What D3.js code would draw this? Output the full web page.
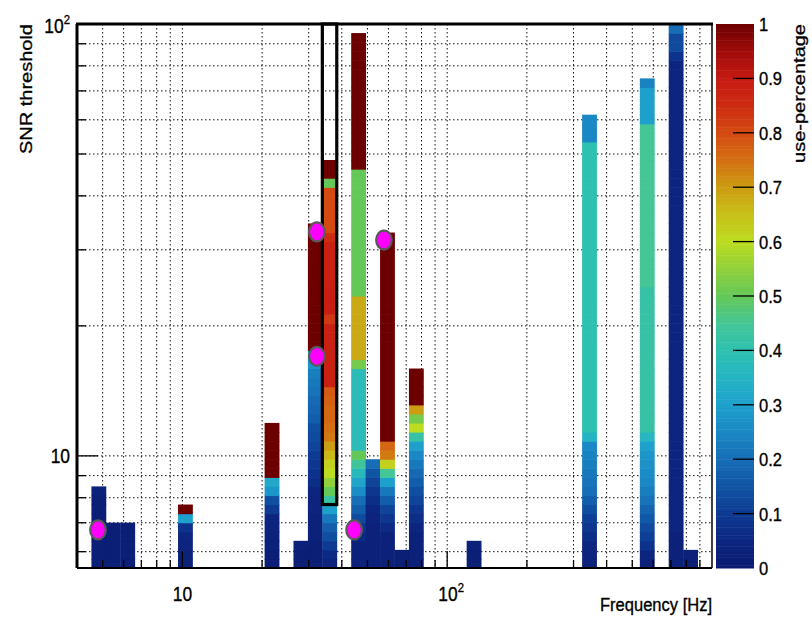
<!DOCTYPE html>
<html lang="en">
<head>
<meta charset="UTF-8">
<title>SNR threshold vs frequency</title>
<script src="https://d3js.org/d3.v7.min.js"></script>
<style>
  body { margin: 0; background: #fff; }
  svg { display: block; font-family: "Liberation Sans", Arial, sans-serif; }
  text { stroke: #000; stroke-width: 0.35; }
</style>
</head>
<body>
<svg id="chart"></svg>
<script>
// binning of the 2D histogram (log-uniform on both axes)
const freqRange = [4, 1000]
const freqBinCount = 44
const snrRange = [5.5, 100]
const snrBinCount = 60

// frequency bins that have content
const filledFreqBins = [1, 2, 3, 7, 13, 15, 16, 17, 19, 20, 21, 22, 23, 27, 35, 39, 41, 42]

// use-percentage of every SNR bin in those columns, from the lowest SNR bin up
const usePercentage = [
  [0.02, 0.02, 0.02, 0.02, 0.02, 0.02, 0.02, 0.02, 0.03],
  [0.02, 0.02, 0.02, 0.02, 0.02],
  [0.02, 0.02, 0.02, 0.02, 0.02],
  [0.03, 0.03, 0.04, 0.05, 0.08, 0.3, 1],
  [0.02, 0.02, 0.03, 0.03, 0.04, 0.05, 0.1, 0.14, 0.28, 0.32, 1, 1, 1, 1, 1, 1],
  [0.02, 0.02, 0.03],
  [0.02, 0.02, 0.02, 0.03, 0.03, 0.03, 0.04, 0.04, 0.05, 0.07, 0.08, 0.09, 0.1, 0.12, 0.13, 0.14,
   0.17, 0.18, 0.19, 0.21, 0.22, 0.23, 0.27, 0.3, 1, 1, 1, 1, 1, 1, 1, 1, 1, 1, 1, 1, 1, 1],
  [0.04, 0.06, 0.1, 0.14, 0.17, 0.22, 0.3, 0.42, 0.5, 0.55, 0.6, 0.62, 0.66, 0.7, 0.74, 0.75,
   0.76, 0.76, 0.77, 0.78, 0.88, 0.88, 0.88, 0.88, 0.88, 0.88, 0.88, 0.83, 0.89, 0.89, 0.89,
   0.88, 0.88, 0.88, 0.88, 0.88, 0.85, 0.8, 0.8, 0.8, 0.8, 0.8, 0.5, 1, 1],
  [0.03, 0.03, 0.03, 0.06, 0.09, 0.13, 0.17, 0.2, 0.26, 0.31, 0.37, 0.44, 0.5, 0.38, 0.38, 0.38,
   0.38, 0.38, 0.38, 0.38, 0.38, 0.38, 0.52, 0.68, 0.68, 0.68, 0.68, 0.68, 0.68, 0.68, 0.5, 0.5,
   0.5, 0.5, 0.5, 0.5, 0.5, 0.5, 0.5, 0.5, 0.5, 0.5, 0.5, 0.5, 1, 1, 1, 1, 1, 1, 1, 1, 1, 1, 1,
   1, 1, 1, 1],
  [0.03, 0.03, 0.03, 0.03, 0.03, 0.04, 0.05, 0.07, 0.09, 0.12, 0.15, 0.2],
  [0.03, 0.03, 0.03, 0.03, 0.06, 0.09, 0.12, 0.17, 0.22, 0.3, 0.45, 0.62, 0.74, 0.76, 1, 1, 1, 1,
   1, 1, 1, 1, 1, 1, 1, 1, 1, 1, 1, 1, 1, 1, 1, 1, 1, 1, 1],
  [0.02, 0.02],
  [0.03, 0.03, 0.03, 0.03, 0.05, 0.07, 0.09, 0.12, 0.14, 0.17, 0.19, 0.22, 0.25, 0.3, 0.42, 0.6,
   0.52, 0.7, 1, 1, 1, 1],
  [0.02, 0.02, 0.03],
  [0.03, 0.04, 0.05, 0.07, 0.09, 0.11, 0.14, 0.17, 0.2, 0.21, 0.22, 0.23, 0.24, 0.25, 0.35, 0.4,
   0.4, 0.4, 0.4, 0.4, 0.4, 0.4, 0.4, 0.4, 0.4, 0.4, 0.4, 0.4, 0.4, 0.4, 0.4, 0.4, 0.4, 0.4, 0.4,
   0.4, 0.4, 0.4, 0.4, 0.4, 0.4, 0.4, 0.4, 0.4, 0.4, 0.4, 0.4, 0.25, 0.25, 0.25],
  [0.03, 0.05, 0.08, 0.11, 0.13, 0.16, 0.18, 0.21, 0.23, 0.25, 0.26, 0.27, 0.28, 0.3, 0.36, 0.42,
   0.42, 0.42, 0.42, 0.42, 0.42, 0.42, 0.42, 0.42, 0.42, 0.42, 0.42, 0.42, 0.42, 0.42, 0.42, 0.45,
   0.45, 0.45, 0.45, 0.45, 0.45, 0.45, 0.45, 0.45, 0.45, 0.45, 0.45, 0.45, 0.45, 0.45, 0.45, 0.45,
   0.45, 0.3, 0.3, 0.3, 0.3, 0.24],
  [0.03, 0.03, 0.03, 0.03, 0.05, 0.05, 0.05, 0.05, 0.05, 0.05, 0.05, 0.05, 0.05, 0.05, 0.05, 0.05,
   0.05, 0.05, 0.05, 0.05, 0.05, 0.05, 0.05, 0.05, 0.05, 0.05, 0.05, 0.05, 0.05, 0.05, 0.05, 0.05,
   0.05, 0.05, 0.05, 0.05, 0.05, 0.05, 0.05, 0.05, 0.05, 0.05, 0.05, 0.05, 0.05, 0.05, 0.05, 0.05,
   0.05, 0.05, 0.05, 0.05, 0.05, 0.05, 0.05, 0.05, 0.08, 0.13, 0.13, 0.2],
  [0.02, 0.03]
]

// magenta markers
const markerFreq = [4.8, 32.2, 32.2, 44.5, 57.7]
const markerSnr = [6.74, 33.0, 17.0, 6.74, 31.6]

// highlighted cell range (frequency bin, first SNR bin)
const boxFreqBin = 17
const boxSnrBin = 7

// ticks
const xMajorTicks = [10, 100]
const xMinorTicks = [5, 6, 7, 8, 9, 20, 30, 40, 50, 60, 70, 80, 90, 200, 300, 400, 500, 600, 700, 800, 900]
const yMajorTicks = [10, 100]
const yMinorTicks = [6, 7, 8, 9, 20, 30, 40, 50, 60, 70, 80, 90]
const zTicks = [0, 0.1, 0.2, 0.3, 0.4, 0.5, 0.6, 0.7, 0.8, 0.9, 1]
const zTickLabels = ['0', '0.1', '0.2', '0.3', '0.4', '0.5', '0.6', '0.7', '0.8', '0.9', '1']

// palette
const paletteStops = [0, 0.05, 0.1, 0.15, 0.2, 0.25, 0.3, 0.35, 0.4, 0.45, 0.5, 0.55, 0.6, 0.65, 0.7, 0.75, 0.8, 0.85, 0.9, 0.95, 1]
const paletteColors = ['#0b1a70', '#0c2680', '#0e3a92', '#1054a4', '#176eb6', '#1a88c4', '#1ea0cc', '#26b4c4',
  '#2ec0b0', '#44c696', '#64c858', '#90d03a', '#bcdc20', '#c8c018', '#cc9c12', '#d47012', '#d44a12',
  '#cc2c12', '#c61a12', '#a00c0a', '#6c0000']

const W = 812, H = 617
const plot = { left: 77, right: 712, top: 24, bottom: 568 }
const bar = { left: 716, right: 754 }
const squash = 0.87

const svg = d3.select('#chart').attr('width', W).attr('height', H)
svg.append('rect').attr('width', W).attr('height', H).attr('fill', '#fff')

const x = d3.scaleLog().domain(freqRange).range([plot.left, plot.right])
const y = d3.scaleLog().domain(snrRange).range([plot.bottom, plot.top])
const color = d3.scaleLinear().domain(paletteStops).range(paletteColors).clamp(true)

const fl0 = Math.log10(freqRange[0]), fl1 = Math.log10(freqRange[1])
const sl0 = Math.log10(snrRange[0]), sl1 = Math.log10(snrRange[1])
const freqEdges = d3.range(freqBinCount + 1).map(k => Math.pow(10, fl0 + k * (fl1 - fl0) / freqBinCount))
const snrEdges = d3.range(snrBinCount + 1).map(k => Math.pow(10, sl0 + k * (sl1 - sl0) / snrBinCount))

// grid (dotted)
const grid = svg.append('g').attr('stroke', '#111').attr('stroke-width', 1).attr('stroke-dasharray', '1.5,2.5')
grid.selectAll('line.gx').data(xMajorTicks.concat(xMinorTicks)).join('line')
  .attr('x1', d => x(d)).attr('x2', d => x(d)).attr('y1', plot.top).attr('y2', plot.bottom)
grid.selectAll('line.gy').data(yMinorTicks.concat([10])).join('line')
  .attr('x1', plot.left).attr('x2', plot.right).attr('y1', d => y(d)).attr('y2', d => y(d))

// cells
const cells = []
filledFreqBins.forEach((b, i) => {
  usePercentage[i].forEach((v, k) => cells.push({ b, k, v }))
})
svg.append('g').selectAll('rect').data(cells).join('rect')
  .attr('x', d => x(freqEdges[d.b]))
  .attr('width', d => x(freqEdges[d.b + 1]) - x(freqEdges[d.b]) + 0.4)
  .attr('y', d => y(snrEdges[d.k + 1]))
  .attr('height', d => y(snrEdges[d.k]) - y(snrEdges[d.k + 1]) + 0.6)
  .attr('fill', d => color(d.v))

// ticks
const ticks = svg.append('g').attr('stroke', '#000').attr('stroke-width', 1.3)
ticks.selectAll('line.xt').data(xMinorTicks.map(v => [v, 8]).concat(xMajorTicks.map(v => [v, 17]))).join('line')
  .attr('x1', d => x(d[0])).attr('x2', d => x(d[0])).attr('y1', plot.bottom).attr('y2', d => plot.bottom - d[1])
ticks.selectAll('line.yt').data(yMinorTicks.map(v => [v, 9]).concat(yMajorTicks.map(v => [v, 21]))).join('line')
  .attr('class', 'yt')
  .attr('x1', plot.left).attr('x2', d => plot.left + d[1]).attr('y1', d => y(d[0])).attr('y2', d => y(d[0]))

// frame
const frame = svg.append('g').attr('stroke', '#000').attr('fill', 'none')
frame.append('line').attr('x1', plot.left).attr('x2', plot.right).attr('y1', plot.bottom).attr('y2', plot.bottom).attr('stroke-width', 1.8)
frame.append('line').attr('x1', plot.right).attr('x2', plot.right).attr('y1', plot.top).attr('y2', plot.bottom).attr('stroke-width', 1.5)
frame.append('line').attr('x1', plot.left - 1).attr('x2', plot.right + 1).attr('y1', plot.top).attr('y2', plot.top).attr('stroke-width', 3)
frame.append('line').attr('x1', plot.left).attr('x2', plot.left).attr('y1', plot.top).attr('y2', plot.bottom).attr('stroke-width', 3)

// highlighted box
svg.append('rect')
  .attr('x', x(freqEdges[boxFreqBin]))
  .attr('width', x(freqEdges[boxFreqBin + 1]) - x(freqEdges[boxFreqBin]))
  .attr('y', y(snrRange[1]))
  .attr('height', y(snrEdges[boxSnrBin]) - y(snrRange[1]))
  .attr('fill', 'none').attr('stroke', '#000').attr('stroke-width', 3.2)

// markers
svg.append('g').selectAll('ellipse').data(d3.zip(markerFreq, markerSnr)).join('ellipse')
  .attr('cx', d => x(d[0])).attr('cy', d => y(d[1]))
  .attr('rx', 7.8).attr('ry', 9.5)
  .attr('fill', '#ff00ff').attr('stroke', '#5a5a5a').attr('stroke-width', 2.2)

// colour bar
const z = d3.scaleLinear().domain([0, 1]).range([plot.bottom, plot.top])
const zSteps = d3.range(0, 1, 0.005)
svg.append('g').selectAll('rect').data(zSteps).join('rect')
  .attr('x', bar.left).attr('width', bar.right - bar.left)
  .attr('y', d => z(d + 0.005)).attr('height', d => z(d) - z(d + 0.005) + 0.5)
  .attr('fill', d => color(d + 0.0025))
svg.append('g').attr('stroke', '#000').attr('stroke-width', 1.3)
  .selectAll('line').data(zTicks.slice(1, -1)).join('line')
  .attr('x1', bar.right - 21).attr('x2', bar.right).attr('y1', d => z(d)).attr('y2', d => z(d))

// text
function label(px, py, str, size, anchor, rot) {
  const t = svg.append('text')
    .attr('transform', `translate(${px},${py}) scale(${squash},1)` + (rot ? ` rotate(${rot})` : ''))
    .attr('font-size', size).attr('text-anchor', anchor).attr('fill', '#000')
  return t.text(str)
}
function powLabel(px, py, anchor, exp) {
  const t = svg.append('text')
    .attr('transform', `translate(${px},${py}) scale(${squash},1)`)
    .attr('font-size', 20).attr('text-anchor', anchor).attr('fill', '#000')
  t.append('tspan').text('10')
  if (exp) t.append('tspan').attr('font-size', 13).attr('dy', -9).text(exp)
  return t
}

zTicks.forEach((v, i) => label(bar.right + 5, z(v) + 7, zTickLabels[i], 19, 'start'))

powLabel(70, y(10) + 7, 'end', null)
powLabel(70, y(100) + 9, 'end', '2')
powLabel(x(10), 601, 'middle', null)
powLabel(x(100) + 4, 601, 'middle', '2')

label(plot.right, 611, 'Frequency [Hz]', 19, 'end')
label(32, plot.top, 'SNR threshold', 20, 'end', -90)
label(805, plot.top, 'use-percentage', 20, 'end', -90)
</script>
</body>
</html>
